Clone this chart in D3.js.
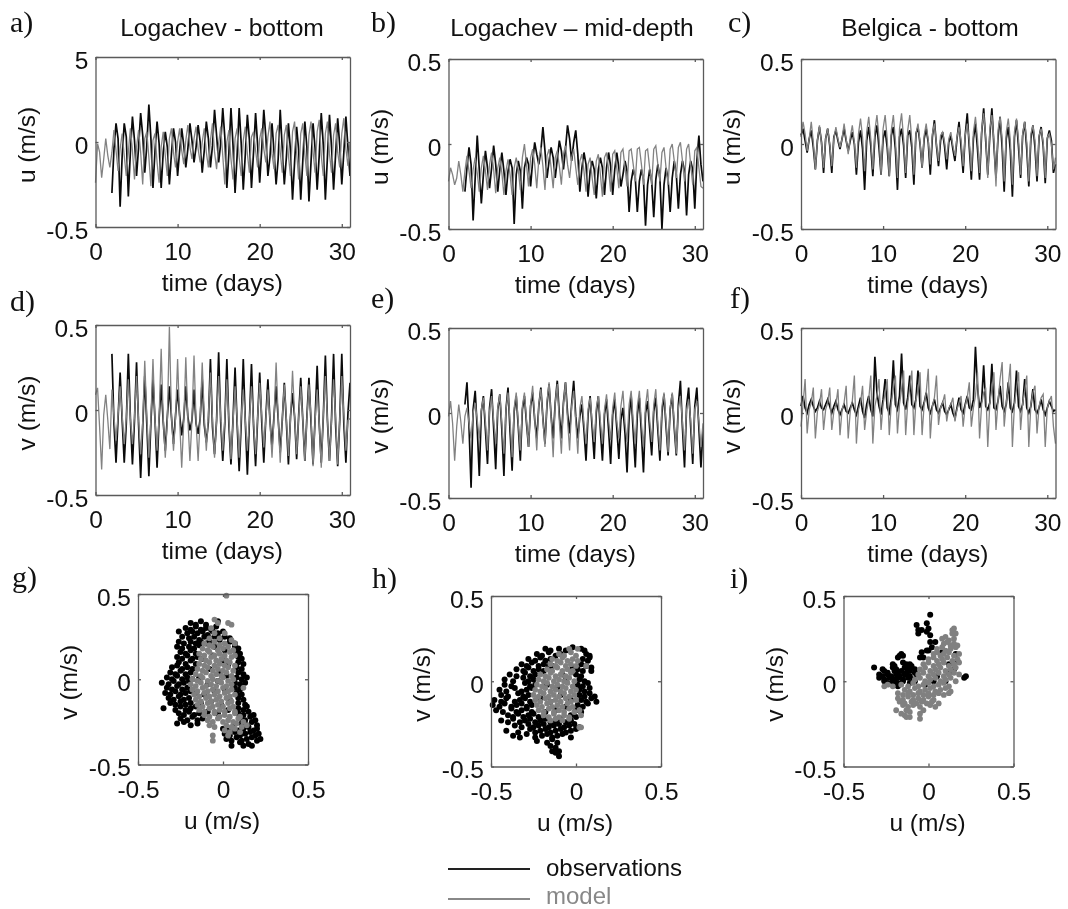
<!DOCTYPE html>
<html>
<head>
<meta charset="utf-8">
<script src="https://cdn.jsdelivr.net/npm/d3@7"></script>
<style>
  html, body { margin: 0; background: #fff; }
  svg { display: block; filter: blur(0.6px); font-family: "Liberation Sans", Arial, sans-serif; }
</style>
</head>
<body>
<script>
// all current values below are in cm/s, one group per day (4 samples a day)
var stepDays = 0.25;
var obsStartLate = 2; // Logachev records start at day 2

var uObsLogBottom = [-30,-4,11,2, -38,-8,11,3, -32,-6,15,1, -20,-3,17,4, -18,-2,22,2, -27,-5,12,-1, -27,-6,6,-3, -25,-7,8,0, -20,-5,8,-2, -15,-4,11,1, -12,-3,10,0, -18,-5,12,2, -15,-2,19,4, -12,-1,20,3, -27,-6,20,-2, -30,-8,20,-1, -28,-7,16,1, -27,-6,17,-2, -24,-4,19,3, -20,-9,11,-6, -25,-10,19,-4, -25,-9,11,-5, -34,-12,9,-5, -34,-11,12,-3, -35,-12,11,-4, -28,-8,17,-2, -34,-9,16,-3, -28,-7,14,-2, -25,-6,15,-3, -20];
var uModLogBottom = [-24,-1,-6,-21, -10,2,-8,-15, -6,7,-5,-17, -4,5,-8,-20, -6,8,-5,-22, -3,7,-6,-25, 2,6,-9,-26, 1,5,-12,-24, -3,6,-8,-20, 2,8,-6,-15, 0,8,-5,-13, 1,10,-3,-10, 2,9,-4,-12, 0,8,-6,-15, 1,11,-6,-16, -1,9,-8,-25, 0,7,-10,-22, 2,8,-9,-20, 1,9,-7,-18, 3,6,-5,-15, 2,8,-4,-12, 3,12,-7,-16, 5,10,-6,-18, 4,10,-8,-20, 6,12,-6,-22, 5,11,-7,-20, 4,12,-6,-18, 6,13,-8,-20, 5,12,-7,-18, 4,11,-6,-15, 5,14,-4,-14, 0];

var uObsLogMid = [-28,-14,-2,-12, -45,-20,5,-15, -35,-18,-4,-14, -26,-14,-1,-12, -28,-15,-5,-16, -30,-16,-9,-14, -47,-18,-10,-16, -38,-14,-8,-12, -25,-10,1,-6, -12,-4,10,-4, -20,-10,-2,-8, -20,-9,2,-4, -15,-3,11,3, -10,1,8,-6, -28,-14,-5,-12, -31,-16,-10,-15, -32,-15,-8,-14, -30,-14,-5,-13, -30,-15,-5,-14, -25,-18,-10,-16, -40,-22,-15,-20, -40,-22,-15,-21, -48,-24,-15,-22, -43,-21,-12,-20, -50,-24,-14,-21, -40,-20,-10,-18, -38,-18,-10,-16, -42,-18,-10,-15, -38,-10,5,-12, -22];
var uModLogMid = [-22,-14,-18,-24, -20,-10,-18,-28, -16,-7,-16,-26, -15,-8,-17,-28, -14,-7,-16,-27, -12,-5,-15,-29, -14,-8,-17,-30, -16,-9,-18,-30, -14,-8,-15,-27, -8,0,-12,-25, -8,-3,-12,-26, -9,-2,-13,-27, -7,-3,-14,-26, -8,-4,-13,-24, -6,-1,-12,-20, -8,-3,-14,-24, -10,-6,-16,-28, -12,-8,-20,-30, -10,-6,-18,-31, -8,-5,-15,-28, -6,-4,-14,-26, -5,-3,-14,-25, -4,-3,-12,-22, -3,-2,-12,-24, -4,-3,-14,-24, -3,-1,-12,-22, -5,-2,-14,-24, -3,0,-10,-20, -2,1,-10,-22, -3,0,-12,-24, -4,-2,-14,-25, -26];

var uObsBelgica = [5,9,2,-5, 3,8,-2,-15, 2,10,1,-17, 3,9,-1,-17, 4,8,2,-3, 3,9,2,-4, 2,7,0,-18, 1,8,-3,-27, 2,10,-1,-19, 4,11,-2,-18, 3,8,-2,-19, 5,10,-3,-27, 4,9,-1,-20, 5,8,-2,-24, 6,10,0,-14, 3,9,1,-18, 4,14,-1,-13, 2,7,-2,-15, 1,5,-3,-10, 3,13,-2,-17, 5,18,-2,-21, 3,12,-3,-21, 6,21,2,-18, 5,21,-1,-20, 4,16,-2,-28, 3,10,-4,-31, 4,14,-2,-20, 5,13,-3,-25, 3,11,-2,-22, 4,10,-1,-23, 3,8,2,-17, -12];
var uModBelgica = [4,13,6,-4, 3,13,1,-15, 2,11,0,-14, 3,9,0,-13, 3,10,3,-2, 3,12,3,-6, 4,11,1,-14, 6,15,4,-16, 7,16,3,-15, 8,17,4,-18, 9,17,3,-19, 8,17,2,-20, 9,18,3,-17, 8,17,2,-18, 6,12,1,-14, 5,12,2,-12, 6,12,0,-10, 5,7,1,-9, 3,7,-1,-7, 4,10,2,-13, 5,12,2,-16, 7,16,3,-17, 8,18,4,-20, 9,17,2,-25, 8,16,3,-22, 7,15,2,-24, 7,15,2,-18, 6,13,1,-22, 6,11,2,-19, 5,9,1,-20, 4,6,0,-15, -8];

var vObsLogBottom = [33,-8,-31,-5, 22,-6,-31,-8, 33,-5,-32,-6, 28,-9,-40,-10, 20,-8,-39,-7, 18,-6,-34,-5, 15,-7,-24,-4, 14,-4,-20,-3, 12,-3,-15,-5, 14,-4,-12,-6, 12,-8,-14,-5, 18,-9,-19,-7, 30,-10,-26,-6, 34,-7,-30,-8, 30,-9,-32,-6, 25,-8,-36,-8, 30,-7,-38,-6, 27,-9,-33,-5, 22,-7,-31,-4, 18,-6,-22,-3, 14,-5,-25,-6, 16,-7,-32,-4, 10,-4,-29,-3, 19,-6,-30,-4, 19,-7,-32,-5, 26,-8,-31,-4, 32,-6,-30,-5, 33,-9,-33,-6, 33,-8,-31,-2, 16];
var vModLogBottom = [9,13,-10,-35, -3,9,-6,-23, 12,-4,-18,-3, 14,-3,-20,-5, 18,-5,-20,-4, 20,-6,-26,-7, 29,-4,-28,-5, 30,-6,-24,-4, 36,-5,-28,-6, 49,-3,-24,-5, 30,-6,-34,-7, 31,-5,-30,-6, 32,-7,-30,-5, 28,-4,-24,-3, 22,-5,-28,-6, 20,-4,-24,-5, 18,-6,-29,-7, 14,-5,-28,-4, 12,-6,-24,-5, 14,-7,-26,-4, 16,-3,-22,-5, 12,-6,-28,-4, 28,-4,-31,-5, 15,-5,-27,-6, 23,-3,-26,-4, 14,-6,-30,-5, 15,-4,-33,-6, 12,-7,-34,-3, 20,-5,-30,-6, 18,-4,-32,-5, 20,-3,-24,-6, -5];

var vObsLogMid = [5,18,-8,-44, 2,13,-9,-37, 1,10,-10,-30, 3,14,-9,-33, 2,11,-10,-37, 2,15,-11,-34, 1,10,-8,-28, 2,10,-6,-20, 4,12,-4,-15, 4,15,-3,-18, 5,17,-2,-15, 6,19,-1,-15, 6,18,0,-12, 5,19,-2,-15, -2,5,-10,-28, -1,10,-9,-27, 0,10,-10,-28, -1,8,-10,-30, -1,8,-9,-27, -4,3,-12,-35, -2,10,-11,-32, -1,9,-12,-35, 0,7,-9,-25, 1,9,-10,-28, 0,11,-8,-25, 2,11,-9,-25, 5,19,-9,-32, 4,15,-8,-30, 4,15,-9,-32, -10];
var vModLogMid = [-2,7,-6,-28, -8,5,-5,-18, -2,3,-6,-15, 0,6,-4,-15, 2,9,-5,-22, 1,10,-4,-18, 3,11,-6,-24, 2,12,-5,-26, 3,12,-6,-22, 4,12,-4,-20, 5,16,-3,-22, 5,14,-4,-20, 7,18,-3,-26, 6,17,-5,-24, 5,18,-4,-22, 4,13,-5,-24, 3,10,-6,-18, 2,9,-5,-17, 3,10,-5,-18, 2,11,-4,-16, 3,12,-5,-15, 4,13,-6,-17, 5,13,-5,-18, 4,13,-6,-20, 4,14,-4,-17, 5,14,-6,-22, 4,12,-5,-23, 3,12,-6,-24, 3,10,-5,-22, 2,8,-4,-24, 2,7,-5,-20, -6];

var vObsBelgica = [4,10,3,0, 5,8,4,1, 3,7,3,2, 5,8,4,0, 4,7,2,-1, 2,5,1,0, 3,6,2,-1, 4,9,1,-3, 5,10,2,-2, 33,12,4,-1, 8,20,3,0, 9,31,5,2, 10,35,6,2, 9,22,5,3, 8,25,4,2, 6,12,3,0, 4,8,2,0, 3,6,1,-1, 2,5,0,-3, 3,9,2,0, 5,10,3,2, 8,39,15,3, 7,28,4,2, 6,29,3,2, 7,16,4,1, 5,18,3,1, 6,25,4,1, 5,20,3,0, 4,14,2,0, 3,8,2,-1, 3,7,4,1, 2];
var vModBelgica = [-8,5,20,-12, 2,6,15,-15, 1,5,14,-10, 2,6,15,-10, 1,5,14,-13, 2,6,16,-15, 1,7,22,-18, 2,6,16,-10, 1,8,22,-18, 4,10,20,-10, 5,12,20,-13, 6,14,22,-12, 5,14,25,-13, 6,15,25,-13, 7,14,24,-13, 5,12,26,-15, 4,9,22,-7, 3,6,11,-5, 3,5,9,-5, 2,6,10,-8, 4,9,18,-8, 3,10,24,-15, 5,12,15,-20, 6,14,24,-10, 7,20,30,-8, 6,16,29,-20, 5,14,24,-10, 6,13,22,-20, 5,12,16,-12, 4,9,11,-20, 3,7,10,-8, -18];

// scatter clouds, [u, v] in cm/s
var scatObsLogBottom = [[-19,33],[-16,32],[-13,34],[-10,32],[-3,34],[-22,30],[-19,29],[-16,31],[-13,29],[-10,30],[-7,29],[-4,31],[-26,28],[-21,27],[-18,28],[-15,27],[-12,28],[-9,26],[-6,28],[-3,27],[0,28],[-24,25],[-20,24],[-17,25],[-14,23],[-11,25],[-8,24],[-5,25],[-2,23],[1,25],[4,24],[-26,22],[-23,21],[-19,22],[-16,21],[-13,22],[-10,21],[4,22],[7,21],[-27,19],[-24,18],[-20,19],[-17,18],[-14,20],[7,19],[9,18],[-25,16],[-22,15],[-19,17],[-16,15],[8,16],[10,15],[-27,13],[-24,12],[-21,14],[-18,12],[-15,13],[9,13],[11,12],[-26,10],[-22,9],[-19,11],[-16,9],[9,10],[12,9],[-30,7],[-27,8],[-24,6],[-21,7],[-18,6],[8,7],[11,6],[-31,4],[-28,3],[-25,5],[-22,3],[-19,4],[9,4],[12,3],[-33,1],[-30,0],[-27,2],[-24,0],[-21,1],[-18,0],[8,1],[11,0],[14,1],[-36,-2],[-32,-3],[-29,-1],[-26,-3],[-23,-2],[-20,-1],[7,-2],[10,-3],[13,-2],[-33,-5],[-30,-6],[-27,-4],[-24,-6],[-21,-5],[7,-5],[10,-6],[-34,-8],[-31,-9],[-28,-7],[-25,-9],[-22,-8],[-19,-7],[8,-8],[11,-9],[-32,-11],[-29,-12],[-26,-10],[-23,-12],[-20,-11],[9,-11],[12,-12],[-31,-14],[-28,-15],[-25,-13],[-22,-15],[-19,-14],[9,-14],[13,-15],[-35,-17],[-28,-18],[-25,-16],[-22,-18],[-19,-17],[-16,-16],[9,-17],[12,-18],[14,-16],[-26,-20],[-23,-21],[-20,-19],[-17,-21],[-14,-20],[9,-20],[12,-21],[15,-19],[18,-21],[-25,-23],[-21,-24],[-18,-22],[-15,-24],[-12,-23],[10,-23],[13,-24],[16,-22],[19,-24],[-27,-26],[-23,-25],[-19,-27],[-15,-26],[11,-26],[14,-27],[17,-25],[20,-27],[0,-29],[3,-30],[6,-28],[9,-30],[12,-29],[15,-28],[18,-30],[20,-29],[1,-32],[4,-33],[7,-31],[10,-33],[13,-32],[16,-31],[19,-33],[21,-32],[2,-35],[5,-36],[8,-34],[11,-36],[14,-35],[17,-34],[20,-36],[22,-35],[5,-39],[10,-37],[12,-39],[15,-38],[17,-39],[-12,12],[-6,14],[0,11],[-8,6],[-2,4],[3,8],[-14,1],[-9,-3],[-3,-1],[2,2],[-16,-8],[-11,-9],[-5,-7],[1,-6],[-13,-14],[-7,-13],[-1,-15],[4,-12],[-9,-19],[-3,-20],[3,-18],[-5,19],[1,17],[-8,22],[-2,24]];
var scatModLogBottom = [[2,49],[-5,35],[-3,33],[3,33],[5,32],[-7,30],[-5,27],[1,27],[-8,24],[-2,24],[5,23],[-11,21],[-8,20],[-5,22],[-2,20],[1,21],[7,21],[-12,18],[-9,17],[-6,19],[-3,17],[0,18],[3,19],[6,17],[-14,15],[-11,14],[-8,16],[-5,14],[-2,15],[1,14],[4,16],[7,14],[-13,12],[-10,11],[-7,13],[-4,11],[-1,12],[2,11],[5,13],[-14,9],[-11,8],[-8,10],[-5,8],[-2,9],[1,8],[4,10],[7,8],[-15,6],[-12,5],[-9,7],[-6,5],[-3,6],[0,5],[3,7],[6,5],[-16,3],[-13,2],[-10,4],[-7,2],[-4,3],[-1,2],[2,4],[5,2],[-18,0],[-15,-1],[-12,1],[-9,-1],[-6,0],[-3,-1],[0,1],[3,-1],[6,0],[-19,-3],[-16,-4],[-13,-2],[-10,-4],[-7,-3],[-4,-4],[-1,-2],[2,-4],[5,-3],[-18,-6],[-15,-7],[-12,-5],[-9,-7],[-6,-6],[-3,-7],[0,-5],[3,-7],[5,-6],[12,-5],[-17,-9],[-14,-10],[-11,-8],[-8,-10],[-5,-9],[-2,-10],[1,-8],[4,-10],[7,-9],[-16,-12],[-13,-13],[-10,-11],[-7,-13],[-4,-12],[-1,-13],[2,-11],[5,-13],[-15,-15],[-12,-16],[-9,-14],[-6,-16],[-3,-15],[0,-16],[3,-14],[6,-16],[-14,-18],[-11,-19],[-8,-17],[-5,-19],[-2,-18],[1,-19],[4,-17],[7,-19],[-11,-21],[-8,-22],[-5,-20],[-2,-22],[1,-21],[4,-22],[7,-20],[10,-22],[-9,-24],[-6,-25],[-3,-23],[0,-25],[3,-24],[6,-25],[9,-23],[12,-25],[-8,-27],[-5,-28],[2,-27],[5,-28],[8,-26],[11,-28],[14,-27],[1,-30],[4,-31],[7,-29],[10,-31],[-6,-33],[3,-33],[-6,-36]];

var scatObsLogMid = [[-18,19],[-15,18],[-10,19],[-6,18],[-2,20],[3,19],[5,18],[-23,16],[-20,15],[-16,17],[-12,15],[-9,16],[6,16],[8,15],[-28,13],[-24,12],[-21,14],[-18,12],[-15,13],[4,13],[7,12],[8,14],[-32,10],[-29,9],[-26,11],[-22,9],[-19,10],[-16,9],[3,10],[6,9],[9,8],[-35,7],[-31,6],[-28,8],[-25,6],[-22,7],[1,7],[4,6],[9,6],[-39,4],[-35,3],[-30,5],[-27,3],[-24,4],[0,4],[3,3],[-42,1],[-37,0],[-31,2],[-28,0],[-25,1],[2,1],[5,0],[-42,-2],[-38,-3],[-30,-1],[-27,-3],[-24,-2],[1,-2],[4,-3],[7,-1],[-45,-5],[-41,-6],[-36,-4],[-32,-6],[-29,-5],[-26,-4],[2,-5],[5,-6],[8,-4],[-44,-8],[-40,-9],[-34,-7],[-31,-9],[-28,-8],[2,-8],[5,-9],[8,-7],[11,-9],[-48,-11],[-44,-12],[-41,-10],[-36,-12],[-33,-11],[-30,-10],[-27,-12],[3,-11],[6,-12],[9,-10],[12,-12],[-49,-14],[-45,-15],[-42,-13],[-38,-15],[-35,-14],[-32,-13],[-29,-15],[-26,-14],[1,-14],[4,-15],[7,-13],[-47,-17],[-43,-18],[-38,-16],[-35,-18],[-32,-17],[-29,-16],[-26,-18],[0,-17],[3,-18],[-40,-20],[-37,-21],[-34,-19],[-31,-21],[-28,-20],[-25,-19],[-22,-21],[-3,-20],[0,-21],[-44,-23],[-40,-24],[-37,-22],[-33,-24],[-30,-23],[-27,-22],[-24,-24],[-21,-23],[-18,-22],[-15,-24],[-12,-23],[-9,-22],[-6,-24],[-3,-23],[-36,-26],[-32,-27],[-28,-25],[-25,-27],[-22,-26],[-19,-25],[-16,-27],[-13,-26],[-10,-25],[-7,-27],[-4,-26],[-1,-25],[2,-27],[-41,-29],[-34,-30],[-27,-28],[-24,-30],[-21,-29],[-18,-28],[-15,-30],[-12,-29],[-9,-28],[-6,-30],[-3,-29],[0,-28],[-37,-32],[-33,-33],[-29,-31],[-24,-33],[-20,-32],[-17,-31],[-14,-33],[-11,-32],[-8,-31],[-3,-33],[-23,-35],[-17,-36],[-14,-34],[-11,-36],[-15,-38],[-12,-39],[-14,-41],[-12,-42],[-10,-41],[-10,-44],[-19,6],[-14,9],[-8,4],[-2,8],[-17,-2],[-11,-4],[-6,1],[-21,-10],[-15,-12],[-9,-8],[-3,-11],[-18,-18],[-12,-17],[-6,-15]];
var scatModLogMid = [[-4,19],[1,19],[-10,16],[-7,15],[-3,17],[0,15],[-14,13],[-11,12],[-8,14],[-5,12],[-2,13],[1,12],[-15,10],[-12,9],[-9,11],[-6,9],[-3,10],[0,9],[6,9],[-17,7],[-14,6],[-11,8],[-8,6],[-5,7],[-2,6],[-21,4],[-18,3],[-15,5],[-12,3],[-9,4],[-6,3],[-3,5],[-22,1],[-19,0],[-16,2],[-13,0],[-10,1],[-7,0],[-4,2],[-1,0],[-23,-2],[-20,-3],[-17,-1],[-14,-3],[-11,-2],[-8,-3],[-5,-1],[-2,-3],[-24,-5],[-21,-6],[-18,-4],[-15,-6],[-12,-5],[-9,-6],[-6,-4],[-3,-6],[0,-5],[-25,-8],[-22,-9],[-19,-7],[-16,-9],[-13,-8],[-10,-9],[-7,-7],[-4,-9],[-1,-8],[-24,-11],[-21,-12],[-18,-10],[-15,-12],[-12,-11],[-9,-12],[-6,-10],[-3,-12],[0,-11],[-23,-14],[-20,-15],[-17,-13],[-14,-15],[-11,-14],[-8,-15],[-5,-13],[-2,-15],[-22,-17],[-19,-18],[-16,-16],[-13,-18],[-10,-17],[-7,-18],[-4,-16],[-1,-18],[2,-17],[-19,-20],[-16,-21],[-13,-19],[-10,-21],[-7,-20],[-4,-21],[3,-20],[-15,-23],[-12,-22],[-8,-23],[-4,-22],[2,-27],[3,-27]];

var scatObsBelgica = [[-21,10],[-20,9],[-15,11],[-13,10],[-11,10],[-10,9],[-32,8],[-27,7],[-21,8],[-19,7],[-14,8],[-12,7],[-10,8],[-8,7],[-26,6],[-24,5],[-20,6],[-18,5],[-16,6],[-13,5],[-11,6],[-8,5],[-29,4],[-27,3],[-24,4],[-22,3],[-19,4],[-17,3],[-14,4],[-11,3],[-7,4],[-29,2],[-26,1],[-23,2],[-20,1],[-18,2],[-15,1],[-12,2],[-9,1],[-26,0],[-24,-1],[-21,0],[-18,-1],[-15,0],[-11,-1],[-8,0],[-20,-2],[-18,-3],[1,39],[-7,33],[-1,34],[0,31],[-1,29],[-6,30],[-4,30],[-6,28],[1,27],[1,23],[4,23],[2,20],[0,18],[-1,18],[-4,17],[-3,14],[-5,14],[-16,16],[-17,15],[-18,14],[-15,15],[21,2],[22,3],[17,12],[15,7],[12,10],[16,16],[8,17],[12,5],[5,3],[3,0],[-2,-2],[10,0]];
var scatModBelgica = [[14,30],[15,31],[14,28],[16,28],[8,25],[10,26],[12,24],[15,25],[9,22],[11,23],[13,21],[15,22],[17,21],[5,19],[8,20],[10,18],[13,19],[16,20],[3,16],[5,17],[7,15],[9,16],[12,17],[15,15],[18,16],[0,13],[3,14],[5,12],[8,13],[11,14],[14,12],[17,13],[-3,10],[0,11],[3,9],[6,10],[9,11],[12,9],[15,10],[18,11],[-5,7],[-2,8],[1,6],[4,7],[7,8],[10,6],[13,7],[16,8],[-6,4],[-3,5],[0,3],[3,4],[6,5],[9,3],[12,4],[15,5],[18,4],[-8,1],[-5,2],[-2,0],[1,1],[4,2],[7,0],[10,1],[13,2],[16,0],[-26,-3],[-24,-2],[-21,-3],[-16,-2],[-12,-3],[-9,-1],[-6,-3],[-3,-2],[0,-1],[3,-3],[6,-2],[9,-1],[12,-3],[-14,-5],[-11,-6],[-8,-4],[-5,-6],[-2,-5],[1,-4],[4,-6],[7,-5],[10,-4],[13,-6],[-18,-7],[-15,-8],[-12,-7],[-9,-8],[-6,-7],[-3,-8],[0,-7],[3,-8],[6,-7],[9,-8],[12,-7],[-18,-10],[-15,-11],[-12,-9],[-9,-11],[-6,-10],[-3,-11],[0,-9],[3,-11],[-17,-12],[-14,-13],[-10,-12],[-7,-13],[-4,-12],[-1,-13],[2,-12],[6,-13],[-15,-14],[-12,-15],[-9,-14],[-5,-15],[1,-14],[4,-15],[-19,-17],[-13,-17],[-11,-18],[-3,-17],[-16,-19],[-14,-20],[-5,-19],[-13,-21],[-11,-21],[-5,-22]];

var legendLabels = ["observations", "model"];
var panelLetters = ["a)", "b)", "c)", "d)", "e)", "f)", "g)", "h)", "i)"];
var siteTitles = ["Logachev - bottom", "Logachev \u2013 mid-depth", "Belgica - bottom"];
var dayTicks = [0, 10, 20, 30];
var speedTicks = [-0.5, 0, 0.5];
var speedLabels = ["-0.5", "0", "0.5"];
var speedLabelsTopFive = ["-0.5", "0", "5"]; // panel a) really prints "5" at the top

var colObs = "#0a0a0a", colMod = "#828282", colAxis = "#5a5a5a";

var svg = d3.select("body").append("svg").attr("width", 1068).attr("height", 909);

function frame(g, xScale, yScale, xTicks, xFmt, yFmt, w, h)
{
  function style(a) {
    a.selectAll("path, line").attr("stroke", colAxis).attr("stroke-width", 1.3);
    a.selectAll("text").attr("font-size", 24.5).attr("fill", "#111").attr("font-family", "inherit");
  }
  g.append("g").attr("transform", "translate(0," + h + ")")
    .call(d3.axisBottom(xScale).tickValues(xTicks).tickSize(-3).tickSizeOuter(0).tickPadding(16).tickFormat(xFmt))
    .call(style);
  g.append("g")
    .call(d3.axisLeft(yScale).tickValues(speedTicks).tickSize(-3).tickSizeOuter(0).tickPadding(7).tickFormat(yFmt))
    .call(style)
    .selectAll("text").attr("dy", "0.45em");
  // top and right without labels
  g.append("g").call(d3.axisTop(xScale).tickValues(xTicks).tickSize(-3).tickSizeOuter(0).tickFormat("")).call(style);
  g.append("g").attr("transform", "translate(" + w + ",0)")
    .call(d3.axisRight(yScale).tickValues(speedTicks).tickSize(-3).tickSizeOuter(0).tickFormat("")).call(style);
}

function axisTitles(g, xText, yText, w, h)
{
  g.append("text").attr("x", xText == "u (m/s)" ? w / 2 - 1 : w / 2 - 0.5).attr("y", h + 64)
    .attr("text-anchor", "middle").attr("font-size", 24.5).attr("fill", "#111").text(xText);
  g.append("text").attr("transform", "translate(-61," + (h / 2 + 3) + ") rotate(-90)")
    .attr("text-anchor", "middle").attr("font-size", 24.5).attr("fill", "#111").text(yText);
}

function timePanel(left, top, yText, obs, obsStart, mod, yLabels)
{
  var w = 254.5, h = 170;
  var g = svg.append("g").attr("transform", "translate(" + left + "," + top + ")");
  var xScale = d3.scaleLinear().domain([0, 31]).range([0, w]);
  var yScale = d3.scaleLinear().domain([-0.5, 0.5]).range([h, 0]);

  var line = function(start) {
    return d3.line()
      .x(function(d, i) { return xScale(start + i * stepDays); })
      .y(function(d) { return yScale(d / 100); });
  };
  g.append("path").attr("d", line(obsStart)(obs)).attr("fill", "none").attr("stroke", colObs).attr("stroke-width", 1.7);
  g.append("path").attr("d", line(0)(mod)).attr("fill", "none").attr("stroke", colMod).attr("stroke-width", 1.3);

  frame(g, xScale, yScale, dayTicks, d3.format("d"), function(d, i) { return yLabels[i]; }, w, h);
  axisTitles(g, "time (days)", yText, w, h);
}

function scatterPanel(left, top, obsPts, modPts)
{
  var w = 170, h = 170.5;
  var g = svg.append("g").attr("transform", "translate(" + left + "," + top + ")");
  var xScale = d3.scaleLinear().domain([-0.5, 0.5]).range([0, w]);
  var yScale = d3.scaleLinear().domain([-0.5, 0.5]).range([h, 0]);

  function dots(pts, col, r) {
    g.append("g").selectAll("circle").data(pts).enter().append("circle")
      .attr("cx", function(d) { return xScale(d[0] / 100); })
      .attr("cy", function(d) { return yScale(d[1] / 100); })
      .attr("r", r).attr("fill", col);
  }
  dots(obsPts, "#000", 3);
  dots(modPts, "#808080", 2.9);

  frame(g, xScale, yScale, speedTicks, function(d, i) { return speedLabels[i]; }, function(d, i) { return speedLabels[i]; }, w, h);
  axisTitles(g, "u (m/s)", "v (m/s)", w, h);
}

// first row
timePanel(95.5, 57, "u (m/s)", uObsLogBottom, obsStartLate, uModLogBottom, speedLabelsTopFive);
timePanel(448.5, 59, "u (m/s)", uObsLogMid, obsStartLate, uModLogMid, speedLabels);
timePanel(801, 59, "u (m/s)", uObsBelgica, 0, uModBelgica, speedLabels);
// second row
timePanel(95.5, 325, "v (m/s)", vObsLogBottom, obsStartLate, vModLogBottom, speedLabels);
timePanel(448.5, 328, "v (m/s)", vObsLogMid, obsStartLate, vModLogMid, speedLabels);
timePanel(801, 328, "v (m/s)", vObsBelgica, 0, vModBelgica, speedLabels);
// scatter row
scatterPanel(138, 594, scatObsLogBottom, scatModLogBottom);
scatterPanel(491, 596, scatObsLogMid, scatModLogMid);
scatterPanel(843.5, 596, scatObsBelgica, scatModBelgica);

// site titles
var titleX = [222, 572, 930];
svg.selectAll(".site").data(siteTitles).enter().append("text").attr("class", "site")
  .attr("x", function(d, i) { return titleX[i]; }).attr("y", 36)
  .attr("text-anchor", "middle").attr("font-size", 24.6).attr("fill", "#111")
  .text(function(d) { return d; });

// panel letters in serif, as in the paper
var letterX = [10, 371, 728, 10, 371, 730, 12, 372, 730];
var letterY = [32, 32, 32, 311, 308, 308, 587, 588, 588];
svg.selectAll(".letter").data(panelLetters).enter().append("text").attr("class", "letter")
  .attr("x", function(d, i) { return letterX[i]; })
  .attr("y", function(d, i) { return letterY[i]; })
  .attr("font-family", "Liberation Serif").attr("font-size", 30).attr("fill", "#111")
  .text(function(d) { return d; });

// legend
var legendColors = ["#222", "#888"];
var legendY = [869, 899];
var legendTextY = [876, 904];
legendLabels.forEach(function(name, i) {
  svg.append("line").attr("x1", 448).attr("x2", 530).attr("y1", legendY[i]).attr("y2", legendY[i])
    .attr("stroke", legendColors[i]).attr("stroke-width", 2);
  svg.append("text").attr("x", 546).attr("y", legendTextY[i])
    .attr("font-size", 24).attr("fill", i == 0 ? "#111" : "#888").text(name);
});
</script>
</body>
</html>
